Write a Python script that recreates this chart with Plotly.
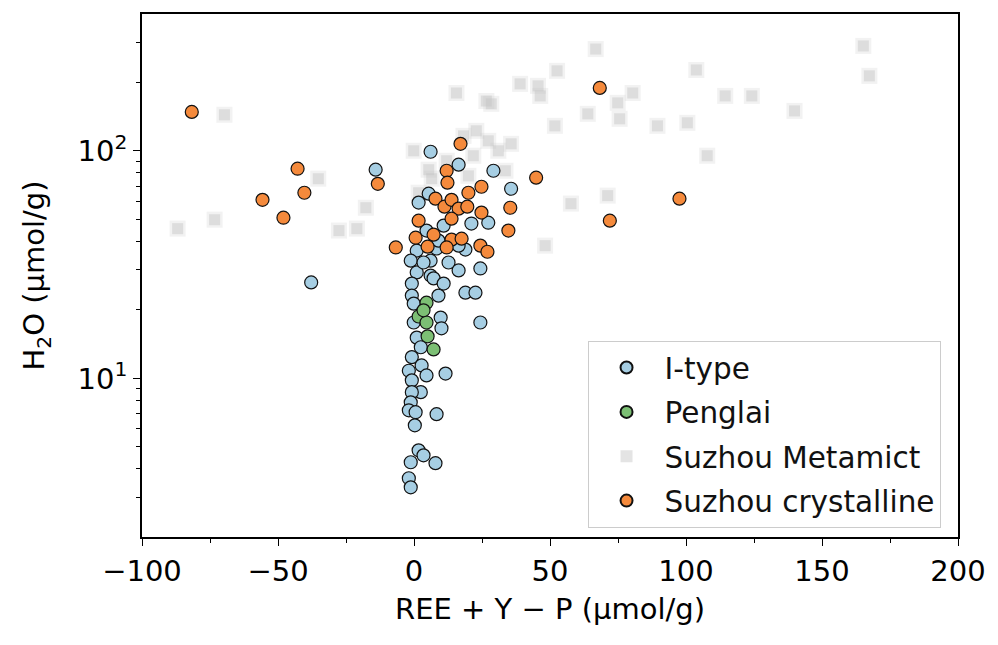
import plotly.graph_objects as go

# REE + Y - P (µmol/g) and H2O (µmol/g) for each zircon group
itype_x = [-14.1, -37.8, 6.1, 16.4, 29.2, 35.7, 1.7, 5.4, 27.3, 21.1, 10.9, 1.0, 8.3, 18.9,
           -1.2, 6.1, 12.7, 16.4, 24.4, 1.0, 6.1, 7.2, 18.9, 22.6, -0.8, -0.8, -0.1, 9.0,
           9.8, -0.1, 10.1, 24.4, 1.0, 2.5, -0.8, 2.8, -1.9, 4.6, 11.6, -0.8, 2.5, -0.8,
           -1.2, -1.9, 0.6, 8.3, 0.3, 1.7, 3.5, 7.9, -1.2, -1.9, -1.2,
           4.6, 9.0, 16.4, 3.5, 10.9]
itype_y = [82.6, 26.4, 99.0, 86.9, 81.7, 68.1, 59.2, 64.8, 48.3, 47.9, 46.9, 36.4, 37.2, 36.8,
           32.9, 32.9, 32.3, 29.8, 30.4, 29.2, 28.3, 27.5, 23.8, 23.8, 26.1, 23.1, 21.3, 23.1,
           18.5, 17.6, 16.6, 17.6, 15.1, 13.7, 12.4, 11.4, 10.8, 10.3, 10.5, 9.8, 8.7, 8.7,
           7.85, 7.24, 7.1, 6.96, 6.22, 4.83, 4.59, 4.24, 4.28, 3.64, 3.32,
           44.6, 40.3, 38.3, 32.3, 26.1]

penglai_x = [4.6, 1.7, 4.6, 5.0, 7.2, 3.5]
penglai_y = [21.5, 18.7, 17.6, 15.3, 13.4, 19.9]

metamict_x = [-69.7, -35.2, -17.7, -73.3, -86.9, -27.6, -21.0, -0.1, 5.4, 1.7,
              66.8, 52.6, 39.0, 45.6, 46.4, 80.4, 74.9, 63.9, 75.6, 51.8,
              89.5, 100.5, 103.8, 114.4, 124.2, 139.9, 165.2, 167.4, 35.7, 107.8,
              57.7, 71.2, 48.2, 33.6, 15.6, 26.6, 28.4, 22.9, 18.2, 27.3,
              12.0, 21.8, 31.0, 20.0, 6.5]
metamict_y = [143.9, 75.4, 56.2, 49.8, 45.5, 44.6, 45.5, 100.0, 82.6, 65.4,
              279.9, 224.4, 196.8, 192.8, 174.2, 179.5, 162.4, 145.3, 138.2, 128.7,
              128.7, 132.7, 226.5, 174.2, 174.2, 149.7, 288.8, 213.4, 107.3, 95.1,
              58.6, 63.5, 38.3, 81.7, 179.5, 165.5, 160.7, 122.4, 116.3, 110.6,
              90.4, 95.1, 100.0, 77.6, 75.4]

crystalline_x = [-81.7, -42.8, -40.3, -13.3, -55.7, -48.0, -6.7, 68.3, 44.9, 35.4,
                 34.7, 72.0, 97.6, 17.1, 12.0, 12.3, 24.8, 20.0, 7.9, 11.2,
                 13.8, 16.4, 19.6, 24.8, 1.7, 13.8, 0.6, 7.2, 5.0, 13.8,
                 12.0, 17.5, 24.4, 27.0]
crystalline_y = [148.2, 83.4, 65.4, 71.6, 60.9, 50.8, 37.6, 188.9, 76.2, 56.2,
                 44.6, 49.3, 61.6, 107.3, 81.7, 72.4, 69.5, 65.4, 61.6, 56.8,
                 60.9, 55.7, 56.8, 53.5, 49.3, 50.3, 41.5, 42.8, 37.9, 40.7,
                 37.6, 41.1, 38.3, 36.0]

x_ticks = [-100, -50, 0, 50, 100, 150, 200]
x_ticktext = ["\u2212100", "\u221250", "0", "50", "100", "150", "200"]
x_minor = [-75, -25, 25, 75, 125, 175]
y_ticks = [10, 100]
y_ticktext = ["10<sup>1</sup>", "10<sup>2</sup>"]
y_minor = [3, 4, 5, 6, 7, 8, 9, 20, 30, 40, 50, 60, 70, 80, 90, 200, 300]

FONT = "DejaVu Sans"
FS = 29
EDGE = dict(color="#111111", width=1.2)

fig = go.Figure()

# metamict grains sit underneath the other groups, drawn as soft grey squares
fig.add_trace(go.Scatter(
    x=metamict_x, y=metamict_y, mode="markers", name="Suzhou Metamict",
    legendrank=3, legendgroup="c", showlegend=False, hoverinfo="skip",
    marker=dict(symbol="square", size=16, color="rgba(205,205,205,0.25)",
                line=dict(width=0)),
))
fig.add_trace(go.Scatter(
    x=metamict_x, y=metamict_y, mode="markers", name="Suzhou Metamict",
    legendrank=3, legendgroup="c",
    marker=dict(symbol="square", size=11, color="rgba(195,195,195,0.45)",
                line=dict(width=0)),
))
fig.add_trace(go.Scatter(
    x=itype_x, y=itype_y, mode="markers", name="I-type",
    legendrank=1, legendgroup="a",
    marker=dict(symbol="circle", size=13, color="#a6cee3", line=EDGE),
))
fig.add_trace(go.Scatter(
    x=penglai_x, y=penglai_y, mode="markers", name="Penglai",
    legendrank=2, legendgroup="b",
    marker=dict(symbol="circle", size=13, color="#7cbf74", line=EDGE),
))
fig.add_trace(go.Scatter(
    x=crystalline_x, y=crystalline_y, mode="markers", name="Suzhou crystalline",
    legendrank=4, legendgroup="d",
    marker=dict(symbol="circle", size=13, color="#f58a3c", line=EDGE),
))

axis_common = dict(
    showline=True, linecolor="black", linewidth=1.6, mirror=True,
    ticks="outside", ticklen=7, tickwidth=1.4, tickcolor="black",
    showgrid=False, zeroline=False,
    tickfont=dict(family=FONT, size=FS, color="black"),
)

fig.update_xaxes(
    range=[-100, 200], tickvals=x_ticks, ticktext=x_ticktext,
    minor=dict(tickvals=x_minor, ticks="outside", ticklen=4, tickwidth=1.1,
               tickcolor="black"),
    title=dict(text="REE + Y \u2212 P (\u00b5mol/g)", standoff=12,
               font=dict(family=FONT, size=FS, color="black")),
    **axis_common,
)
fig.update_yaxes(
    type="log", range=[0.303, 2.601], tickvals=y_ticks, ticktext=y_ticktext,
    minor=dict(tickvals=y_minor, ticks="outside", ticklen=4, tickwidth=1.1,
               tickcolor="black"),
    title=dict(text="H<sub>2</sub>O (\u00b5mol/g)", standoff=24,
               font=dict(family=FONT, size=FS, color="black")),
    **axis_common,
)

fig.update_layout(
    width=998, height=645,
    margin=dict(l=142, r=36, t=13, b=108),
    plot_bgcolor="white", paper_bgcolor="white",
    font=dict(family=FONT, color="black"),
    legend=dict(
        x=0.546, y=0.375, xanchor="left", yanchor="top",
        bgcolor="white", bordercolor="#cccccc", borderwidth=1,
        font=dict(family=FONT, size=29.5, color="#111111"),
        tracegroupgap=3, itemsizing="constant", itemwidth=66,
    ),
    showlegend=True,
)

fig.write_html("out.html")
